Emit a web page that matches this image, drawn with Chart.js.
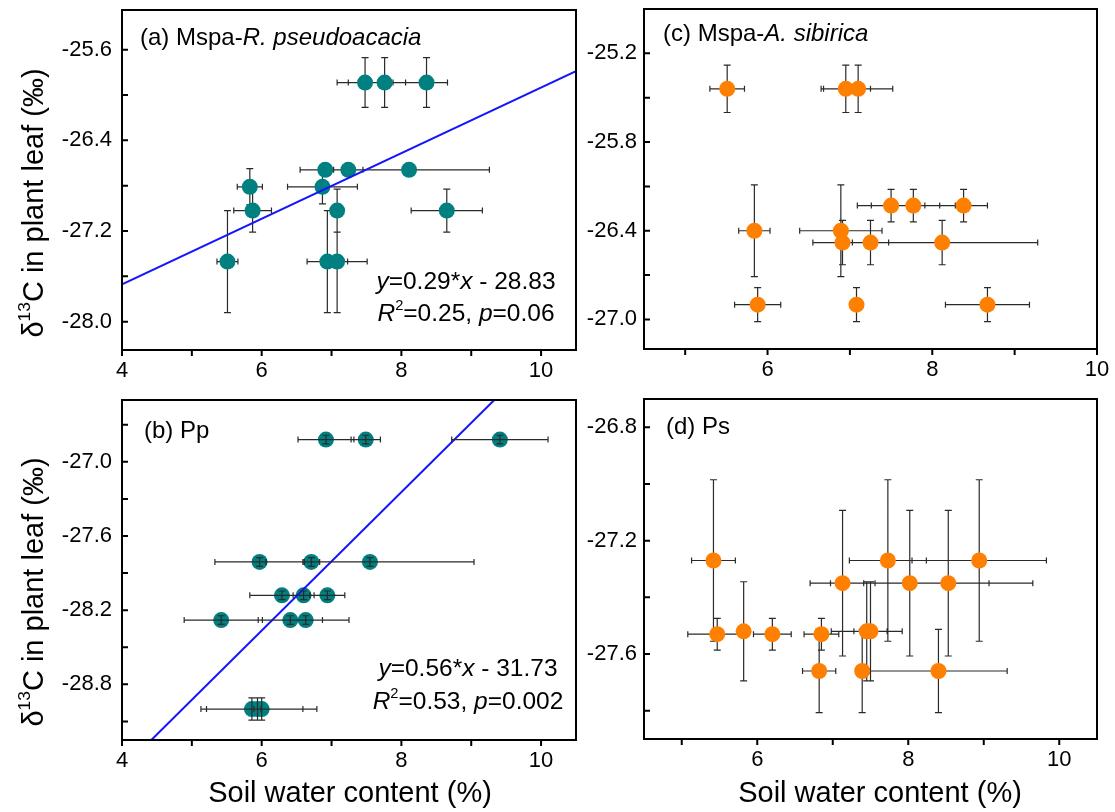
<!DOCTYPE html>
<html>
<head>
<meta charset="utf-8">
<title>Leaf d13C vs soil water content</title>
<script src="https://cdn.jsdelivr.net/npm/chart.js@4.4.1/dist/chart.umd.min.js"></script>
<style>
  body { margin: 0; background: #fff; }
  #page { position: relative; width: 1115px; height: 812px; overflow: hidden; font-family: "Liberation Sans", Arial, sans-serif; color: #000; }
  #page canvas { position: absolute; }
  .txt { position: absolute; white-space: nowrap; line-height: 1; }
  .panel { font-size: 24px; }
  .eq { font-size: 24.5px; transform: translateX(-50%); }
  .xtitle { font-size: 29px; transform: translate(-50%, -50%); }
  .ytitle { font-size: 29px; transform: translate(-50%, -50%) rotate(-90deg); }
  .sup { font-size: 0.6em; position: relative; top: -0.75em; }
</style>
</head>
<body>
<div id="page">
  <canvas id="chartA" width="600" height="390" style="left:0;top:0"></canvas>
  <canvas id="chartB" width="600" height="422" style="left:0;top:390px"></canvas>
  <canvas id="chartC" width="595" height="390" style="left:520px;top:0"></canvas>
  <canvas id="chartD" width="595" height="422" style="left:520px;top:390px"></canvas>

  <div class="txt panel" style="left:140px;top:25px">(a) Mspa-<i>R. pseudoacacia</i></div>
  <div class="txt panel" style="left:144px;top:418px">(b) Pp</div>
  <div class="txt panel" style="left:663px;top:21px">(c) Mspa-<i>A. sibirica</i></div>
  <div class="txt panel" style="left:666px;top:414px">(d) Ps</div>

  <div class="txt eq" style="left:466px;top:269px"><i>y</i>=0.29*<i>x</i> - 28.83</div>
  <div class="txt eq" style="left:466px;top:301px"><i>R</i><span class="sup">2</span>=0.25, <i>p</i>=0.06</div>
  <div class="txt eq" style="left:468px;top:656px"><i>y</i>=0.56*<i>x</i> - 31.73</div>
  <div class="txt eq" style="left:468px;top:689px"><i>R</i><span class="sup">2</span>=0.53, <i>p</i>=0.002</div>

  <div class="txt ytitle" style="left:33px;top:203px">&delta;<span class="sup">13</span>C in plant leaf (&permil;)</div>
  <div class="txt ytitle" style="left:33px;top:592px">&delta;<span class="sup">13</span>C in plant leaf (&permil;)</div>
  <div class="txt xtitle" style="left:350px;top:792px">Soil water content (%)</div>
  <div class="txt xtitle" style="left:880px;top:792px">Soil water content (%)</div>
</div>

<script>
// ---- tick positions and the labels printed on them ----
const xTicksAB = [4, 5, 6, 7, 8, 9, 10];
const xTicksCD = [5, 6, 7, 8, 9, 10];
const xLabels = ['4', '6', '8', '10'];

const aYTicks = [-28.0, -27.6, -27.2, -26.8, -26.4, -26.0, -25.6];
const aYLabels = ['-28.0', '-27.2', '-26.4', '-25.6'];
const bYTicks = [-29.1, -28.8, -28.5, -28.2, -27.9, -27.6, -27.3, -27.0, -26.7];
const bYLabels = ['-28.8', '-28.2', '-27.6', '-27.0'];
const cYTicks = [-27.0, -26.7, -26.4, -26.1, -25.8, -25.5, -25.2];
const cYLabels = ['-27.0', '-26.4', '-25.8', '-25.2'];
const dYTicks = [-27.8, -27.6, -27.4, -27.2, -27.0, -26.8];
const dYLabels = ['-27.6', '-27.2', '-26.8'];

// ---- (a) Mspa - R. pseudoacacia ----
const aX    = [7.48, 7.76, 8.36, 6.91, 7.24, 8.11, 5.83, 6.87, 5.87, 7.08, 8.65, 5.51, 6.94, 7.08];
const aY    = [-25.89, -25.89, -25.89, -26.66, -26.66, -26.66, -26.81, -26.81, -27.02, -27.02, -27.02, -27.47, -27.47, -27.47];
const aXErr = [0.40, 0.52, 0.30, 0.36, 0.21, 1.15, 0.18, 0.50, 0.27, 0.05, 0.51, 0.15, 0.29, 0.43];
const aYErr = [0.22, 0.22, 0.22, 0.05, 0.05, 0.05, 0.16, 0.15, 0.19, 0.19, 0.19, 0.45, 0.45, 0.45];
const aFitX = [4, 10.5];
const aFitY = [-27.67, -25.79];

// ---- (b) Pp ----
const bX    = [6.92, 7.49, 9.41, 5.97, 6.71, 7.55, 6.29, 6.60, 6.94, 5.42, 6.41, 6.63, 5.86, 5.94, 6.00];
const bY    = [-26.82, -26.82, -26.82, -27.81, -27.81, -27.81, -28.08, -28.08, -28.08, -28.28, -28.28, -28.28, -29.00, -29.00, -29.00];
const bXErr = [0.40, 0.21, 0.69, 0.64, 0.12, 1.49, 0.46, 0.15, 0.25, 0.53, 0.46, 0.62, 0.73, 0.05, 0.79];
const bYErr = [0.035, 0.035, 0.035, 0.035, 0.035, 0.035, 0.035, 0.035, 0.035, 0.035, 0.035, 0.035, 0.09, 0.09, 0.09];
const bFitX = [4.42, 9.33];
const bFitY = [-29.25, -26.5];

// ---- (c) Mspa - A. sibirica ----
const cX    = [5.51, 6.95, 7.10, 7.50, 7.77, 8.38, 5.84, 6.89, 6.91, 7.25, 8.12, 5.88, 7.08, 8.67];
const cY    = [-25.44, -25.44, -25.44, -26.23, -26.23, -26.23, -26.40, -26.40, -26.48, -26.48, -26.48, -26.90, -26.90, -26.90];
const cXErr = [0.21, 0.30, 0.42, 0.41, 0.51, 0.29, 0.19, 0.50, 0.36, 0.22, 1.16, 0.28, 0.04, 0.51];
const cYErr = [0.16, 0.16, 0.16, 0.11, 0.11, 0.11, 0.31, 0.31, 0.15, 0.15, 0.15, 0.115, 0.115, 0.115];

// ---- (d) Ps ----
const dX    = [5.42, 7.73, 8.94, 7.13, 8.02, 8.53, 5.47, 5.82, 6.20, 6.85, 7.45, 7.50, 6.82, 7.39, 8.40];
const dY    = [-27.27, -27.27, -27.27, -27.35, -27.35, -27.35, -27.53, -27.52, -27.53, -27.53, -27.52, -27.52, -27.66, -27.66, -27.66];
const dXErr = [0.29, 0.51, 0.89, 0.43, 1.05, 1.12, 0.39, 0.08, 0.25, 0.23, 0.47, 0.22, 0.22, 0.05, 0.91];
const dYErr = [0.285, 0.285, 0.285, 0.257, 0.257, 0.257, 0.056, 0.175, 0.056, 0.056, 0.175, 0.175, 0.147, 0.147, 0.147];

const teal = '#008080';
const orange = '#ff8000';
const fitBlue = '#1414ff';

Chart.defaults.font.family = '"Liberation Sans", Arial, sans-serif';
Chart.defaults.font.size = 22;
Chart.defaults.color = '#000';

// error bars, drawn through the chart's own scales
const errorBars = {
  id: 'errorBars',
  beforeDatasetsDraw(chart, args, opts) { if (!opts.onTop) drawErrorBars(chart); },
  afterDatasetsDraw(chart, args, opts) { if (opts.onTop) drawErrorBars(chart); }
};

function drawErrorBars(chart) {
  const { ctx, scales: { x, y } } = chart;
  ctx.save();
  ctx.strokeStyle = '#2a2a2a';
  ctx.lineWidth = 1.2;
  ctx.beginPath();
  chart.data.datasets.forEach(ds => {
    if (!ds.xErr) return;
    ds.data.forEach((p, i) => {
      const px = x.getPixelForValue(p.x), py = y.getPixelForValue(p.y);
      const x0 = x.getPixelForValue(p.x - ds.xErr[i]), x1 = x.getPixelForValue(p.x + ds.xErr[i]);
      const y0 = y.getPixelForValue(p.y - ds.yErr[i]), y1 = y.getPixelForValue(p.y + ds.yErr[i]);
      ctx.moveTo(x0, py); ctx.lineTo(x1, py);
      ctx.moveTo(x0, py - 3); ctx.lineTo(x0, py + 3);
      ctx.moveTo(x1, py - 3); ctx.lineTo(x1, py + 3);
      ctx.moveTo(px, y0); ctx.lineTo(px, y1);
      ctx.moveTo(px - 3.5, y0); ctx.lineTo(px + 3.5, y0);
      ctx.moveTo(px - 3.5, y1); ctx.lineTo(px + 3.5, y1);
    });
  });
  ctx.stroke();
  ctx.restore();
}

// closed box round the plot, x ticks outward, y ticks inward
const frame = {
  id: 'frame',
  afterDraw(chart) {
    const { ctx, chartArea: a, scales: { x, y } } = chart;
    ctx.save();
    ctx.strokeStyle = '#000';
    ctx.lineWidth = 2;
    ctx.strokeRect(a.left, a.top, a.right - a.left, a.bottom - a.top);
    ctx.beginPath();
    x.ticks.forEach(t => {
      const p = x.getPixelForValue(t.value);
      ctx.moveTo(p, a.bottom); ctx.lineTo(p, a.bottom + 6);
    });
    y.ticks.forEach(t => {
      const p = y.getPixelForValue(t.value);
      ctx.moveTo(a.left, p); ctx.lineTo(a.left + 6, p);
    });
    ctx.stroke();
    ctx.restore();
  }
};

function axis(range, ticks, labels, isX, size, pad) {
  return {
    type: 'linear',
    min: range[0],
    max: range[1],
    grid: { display: false, drawTicks: false },
    border: { display: false },
    ticks: {
      padding: pad,
      autoSkip: false,
      maxRotation: 0,
      callback: v => labels.find(l => Math.abs(parseFloat(l) - v) < 1e-6) || ''
    },
    afterBuildTicks: s => { s.ticks = ticks.map(value => ({ value })); },
    afterFit: s => {
      if (isX) s.height = size; else s.width = size;
      s.paddingTop = s.paddingBottom = s.paddingLeft = s.paddingRight = 0;
    }
  };
}

function toPoints(xs, ys) {
  return xs.map((x, i) => ({ x, y: ys[i] }));
}

function panel(id, o) {
  const datasets = [];
  if (o.fitX) {
    datasets.push({
      data: toPoints(o.fitX, o.fitY),
      showLine: true, pointRadius: 0, borderColor: fitBlue, borderWidth: 2
    });
  }
  datasets.push({
    data: toPoints(o.x, o.y),
    xErr: o.xErr, yErr: o.yErr,
    pointRadius: 8, pointBorderWidth: 0,
    pointBackgroundColor: o.color, pointBorderColor: o.color
  });

  new Chart(document.getElementById(id), {
    type: 'scatter',
    data: { datasets },
    options: {
      responsive: false,
      animation: false,
      devicePixelRatio: 1,
      events: [],
      layout: { padding: o.pad },
      plugins: {
        legend: { display: false },
        tooltip: { enabled: false },
        errorBars: { onTop: !!o.barsOnTop }
      },
      scales: {
        x: axis(o.xRange, o.xTicks, xLabels, true, o.xSize, 8),
        y: axis(o.yRange, o.yTicks, o.yLabels, false, o.ySize, o.yPad)
      }
    },
    plugins: [errorBars, frame]
  });
}

panel('chartA', {
  x: aX, y: aY, xErr: aXErr, yErr: aYErr, fitX: aFitX, fitY: aFitY, color: teal,
  xRange: [4, 10.5], yRange: [-28.25, -25.25], xTicks: xTicksAB, yTicks: aYTicks, yLabels: aYLabels,
  pad: { top: 10, right: 24, bottom: 0, left: 0 }, xSize: 40, ySize: 122, yPad: 10
});
panel('chartB', {
  x: bX, y: bY, xErr: bXErr, yErr: bYErr, fitX: bFitX, fitY: bFitY, color: teal, barsOnTop: true,
  xRange: [4, 10.5], yRange: [-29.25, -26.5], xTicks: xTicksAB, yTicks: bYTicks, yLabels: bYLabels,
  pad: { top: 10, right: 24, bottom: 0, left: 0 }, xSize: 72, ySize: 122, yPad: 10
});
panel('chartC', {
  x: cX, y: cY, xErr: cXErr, yErr: cYErr, color: orange,
  xRange: [4.5, 10], yRange: [-27.2, -24.9], xTicks: xTicksCD, yTicks: cYTicks, yLabels: cYLabels,
  pad: { top: 9, right: 18, bottom: 0, left: 0 }, xSize: 41, ySize: 124, yPad: 7
});
panel('chartD', {
  x: dX, y: dY, xErr: dXErr, yErr: dYErr, color: orange,
  xRange: [4.5, 10.5], yRange: [-27.9, -26.7], xTicks: xTicksCD, yTicks: dYTicks, yLabels: dYLabels,
  pad: { top: 9, right: 18, bottom: 0, left: 0 }, xSize: 73, ySize: 124, yPad: 7
});
</script>
</body>
</html>
